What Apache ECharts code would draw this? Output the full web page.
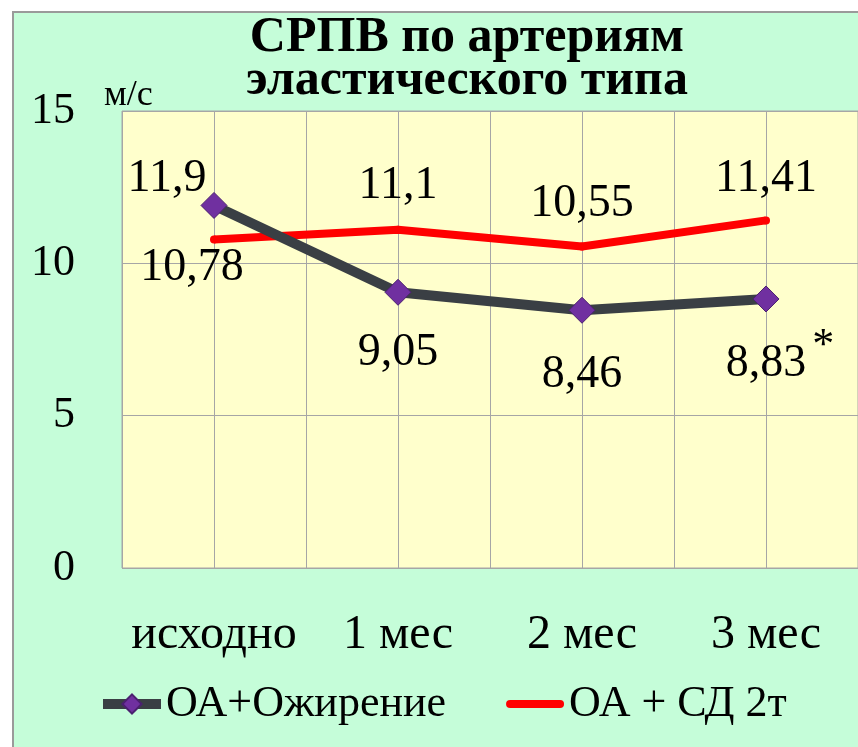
<!DOCTYPE html>
<html>
<head>
<meta charset="utf-8">
<script src="https://cdn.jsdelivr.net/npm/echarts@6/dist/echarts.min.js"></script>
<style>
    html, body {margin: 0; padding: 0; background: #fff;}
    #main {width: 858px; height: 747px;}
</style>
</head>
<body>
<div id="main"></div>
<script>
var categories = ['исходно', '1 мес', '2 мес', '3 мес'];
var obesityName = 'ОА+Ожирение';
var obesityValues = [11.9, 9.05, 8.46, 8.83];
var diabetesName = 'ОА + СД 2т';
var diabetesValues = [10.78, 11.1, 10.55, 11.41];
var yTicks = {min: 0, max: 15, interval: 5};
var yUnit = 'м/с';
var title = 'СРПВ по артериям\nэластического типа';

// label placement per point (style only)
var obesityLabelPos = [
    {position: 'top', offset: [-47, 15]},
    {position: 'bottom', offset: [0, 19]},
    {position: 'bottom', offset: [0, 23]},
    {position: 'bottom', offset: [14, 7]}
];
var diabetesLabelPos = [
    {position: 'bottom', offset: [-22, -4]},
    {position: 'top', offset: [0, -12]},
    {position: 'top', offset: [0, -11]},
    {position: 'top', offset: [0, -9]}
];

var FONT = '"Liberation Serif", "DejaVu Serif", serif';

function fmt(v) {
    return String(v).replace('.', ',');
}

var myChart = echarts.init(document.getElementById('main'));

var option = {
    backgroundColor: '#ffffff',
    textStyle: {fontFamily: FONT},
    graphic: [
        {
            type: 'rect',
            z: -10,
            shape: {x: 13, y: 12, width: 900, height: 800},
            style: {fill: '#c5fdd9', stroke: '#9a9a9a', lineWidth: 2}
        },
        {
            type: 'text',
            left: 104,
            top: 78,
            style: {text: yUnit, font: '36px ' + FONT, fill: '#000'}
        }
    ],
    title: {
        text: title,
        left: 462,
        top: 12,
        textAlign: 'center',
        textStyle: {
            fontFamily: FONT,
            fontWeight: 'bold',
            fontSize: 50,
            lineHeight: 43,
            color: '#000'
        }
    },
    legend: {
        left: 98,
        top: 682,
        padding: 0,
        itemWidth: 58,
        itemHeight: 24,
        itemGap: 60,
        textStyle: {fontFamily: FONT, fontSize: 44, color: '#000'},
        data: [
            {
                name: obesityName,
                lineStyle: {color: '#3a3f44', width: 10}
            },
            {
                name: diabetesName,
                icon: 'path://M4,0 L54,0 A4,4 0 0 1 54,8 L4,8 A4,4 0 0 1 4,0 Z',
                itemStyle: {color: '#ff0000'}
            }
        ]
    },
    grid: {
        left: 122,
        top: 111,
        width: 740,
        height: 457,
        show: true,
        backgroundColor: '#ffffcc',
        borderColor: '#a6a6a6',
        borderWidth: 1
    },
    xAxis: [
        {
            type: 'category',
            data: categories,
            boundaryGap: true,
            axisLine: {show: false},
            axisTick: {show: false},
            splitLine: {show: false},
            axisLabel: {interval: 0, margin: 43, fontSize: 48, color: '#000', fontFamily: FONT}
        },
        {
            type: 'value',
            min: 0,
            max: 8,
            interval: 1,
            show: true,
            axisLine: {show: false},
            axisTick: {show: false},
            axisLabel: {show: false},
            splitLine: {show: true, lineStyle: {color: '#a6a6a6', width: 1}}
        }
    ],
    yAxis: {
        type: 'value',
        min: yTicks.min,
        max: yTicks.max,
        interval: yTicks.interval,
        axisLine: {show: false},
        axisTick: {show: false},
        axisLabel: {margin: 47, fontSize: 44, color: '#000', fontFamily: FONT},
        splitLine: {lineStyle: {color: '#a6a6a6', width: 1}}
    },
    series: [
        {
            name: diabetesName,
            type: 'line',
            xAxisIndex: 0,
            data: diabetesValues.map(function (v, i) {
                return {value: v, label: diabetesLabelPos[i]};
            }),
            symbol: 'circle',
            symbolSize: 8,
            lineStyle: {color: '#ff0000', width: 8},
            itemStyle: {color: '#ff0000', borderWidth: 0},
            label: {
                show: true,
                fontSize: 46,
                color: '#000',
                fontFamily: FONT,
                formatter: function (p) { return fmt(p.value); }
            },
            z: 3
        },
        {
            name: obesityName,
            type: 'line',
            xAxisIndex: 0,
            data: obesityValues.map(function (v, i) {
                return {value: v, label: obesityLabelPos[i]};
            }),
            symbol: 'diamond',
            symbolSize: 26,
            lineStyle: {color: '#3a3f44', width: 10},
            itemStyle: {color: '#7030a0', borderColor: '#4b2070', borderWidth: 1},
            label: {
                show: true,
                fontSize: 46,
                color: '#000',
                fontFamily: FONT,
                formatter: function (p) {
                    if (p.dataIndex === obesityValues.length - 1) {
                        return '{v|' + fmt(p.value) + '}{s|*}';
                    }
                    return fmt(p.value);
                },
                rich: {
                    v: {fontSize: 46, fontFamily: FONT, color: '#000'},
                    s: {fontSize: 44, fontFamily: FONT, color: '#000', padding: [0, 0, 34, 6]}
                }
            },
            z: 4
        }
    ]
};

myChart.setOption(option);
</script>
</body>
</html>
